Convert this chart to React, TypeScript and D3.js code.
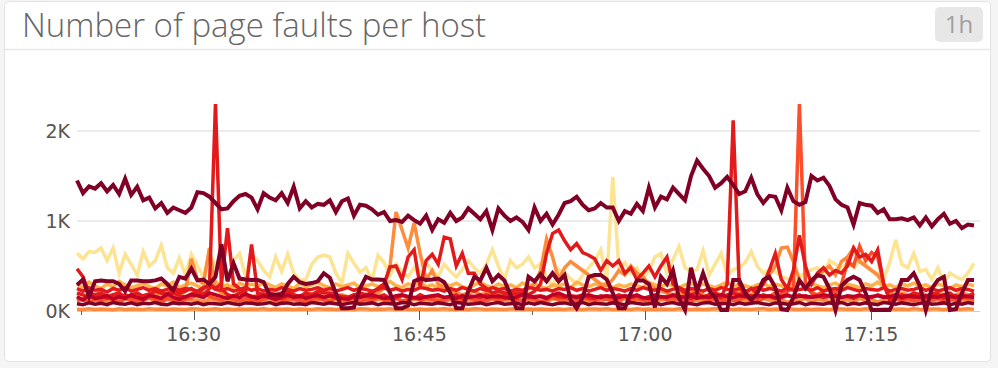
import React from "react";
import * as d3 from "d3";

const TITLE = "Number of page faults per host";
const BADGE = "1h";
const START = new Date(2024, 0, 1, 16, 22, 15);
const END = new Date(2024, 0, 1, 17, 22, 15);
const STEP_SEC = 24;
const yTickValues = [0, 1000, 2000];

const hostA = [1450,1310,1385,1360,1420,1330,1400,1300,1470,1290,
 1380,1230,1260,1140,1200,1090,1150,1120,1090,1150,
 1320,1310,1270,1200,1130,1140,1220,1280,1300,1260,
 1130,1310,1260,1230,1310,1200,1380,1140,1220,1150,
 1190,1180,1230,1100,1220,1250,1060,1180,1170,1130,
 1070,1100,1000,1010,990,1060,1010,970,1060,900,
 1020,980,1090,1000,1040,1140,1080,1020,1110,900,
 1140,1060,1000,1040,990,900,1150,1000,1080,960,
 1070,1200,1220,1270,1180,1120,1140,1200,1150,1150,
 1000,1110,1080,1190,1110,1370,1150,1270,1240,1370,
 1300,1230,1500,1670,1580,1500,1370,1420,1490,1400,
 1300,1330,1480,1300,1200,1280,1270,1120,1370,1220,
 1180,1210,1500,1450,1480,1390,1240,1180,1150,960,
 1200,1180,1170,1090,1130,1020,1020,1030,1010,1040,
 950,1040,940,1020,1080,970,1000,920,960,950];

const hostB = [290,350,160,330,340,330,330,300,220,340,
 340,330,330,340,360,300,230,380,360,470,
 340,350,300,380,740,330,530,360,350,345,
 345,320,180,180,180,300,380,320,300,310,
 330,420,370,200,30,30,40,250,380,350,
 350,345,200,30,30,60,330,360,345,350,
 360,320,200,30,30,220,380,340,480,330,
 400,340,180,30,30,380,330,410,330,420,
 330,400,120,30,150,380,400,400,350,200,
 30,30,200,340,340,300,40,380,300,450,
 140,10,480,220,420,230,150,10,10,345,
 345,200,120,200,345,380,260,20,10,150,
 340,250,340,400,380,250,10,280,345,380,
 345,200,10,10,10,10,150,345,345,420,
 280,10,250,345,380,10,20,200,345,345];

const hostC = [640,580,660,650,700,560,700,420,630,520,
 400,660,500,560,730,480,420,590,400,630,
 500,380,630,500,630,350,560,640,380,630,
 560,450,380,600,440,630,420,340,350,520,
 600,620,600,420,310,640,530,430,480,340,
 620,540,400,520,440,380,480,400,540,450,
 380,520,440,380,460,560,480,420,520,680,
 500,350,560,480,520,600,480,520,380,270,
 460,420,360,300,400,480,560,680,340,1490,
 480,540,420,480,360,450,600,640,420,570,
 715,480,440,460,670,400,520,640,400,460,
 480,540,660,500,420,460,440,380,360,300,
 380,420,460,480,400,560,520,460,540,480,
 560,520,450,420,350,540,790,520,480,640,
 440,460,350,480,320,420,380,350,420,530];

const hostD = [200,180,150,160,190,140,170,150,180,160,
 150,170,190,160,140,180,200,170,150,190,
 200,180,250,2300,250,180,160,200,180,150,
 170,160,180,150,140,170,160,150,180,170,
 160,150,170,140,160,150,180,160,170,150,
 160,180,140,150,170,160,140,180,150,160,
 170,150,160,180,140,170,160,150,180,160,
 150,170,160,140,180,150,160,170,150,180,
 160,150,170,160,180,150,140,170,160,150,
 180,160,150,170,140,160,180,150,160,170,
 150,160,140,170,150,180,160,150,300,2120,
 300,160,170,150,180,160,140,150,170,160,
 180,150,160,170,150,160,180,150,160,140,
 170,160,150,180,160,150,170,140,160,150,
 170,160,150,180,140,160,170,150,160,170];

const hostE = [120,140,100,130,110,150,120,100,140,130,
 110,120,150,130,100,140,120,110,130,150,
 180,200,160,140,120,150,130,110,140,120,
 100,130,150,120,110,140,130,120,100,130,
 140,120,110,150,130,120,140,100,130,120,
 150,130,120,140,110,130,150,120,140,130,
 110,120,140,130,100,150,120,130,110,140,
 120,130,150,110,120,140,130,100,120,150,
 130,140,120,110,150,130,120,140,130,110,
 120,150,130,140,120,110,130,150,120,140,
 130,120,110,150,140,120,130,110,140,120,
 130,150,120,110,140,160,200,180,220,250,
 2300,300,200,180,220,250,200,300,550,500,
 720,560,650,600,300,150,130,120,140,110,
 130,150,120,140,110,130,120,150,140,130];

const hostF = [150,130,160,140,180,150,170,140,160,150,
 180,160,150,170,190,200,180,160,220,580,
 350,300,700,250,200,180,160,200,180,170,
 150,160,180,170,200,180,160,150,170,190,
 180,160,150,170,180,160,150,170,160,180,
 200,250,500,1100,900,700,980,640,350,450,
 300,250,220,200,180,200,220,180,200,190,
 180,200,220,200,180,250,300,450,800,600,
 350,480,550,500,450,400,350,300,280,350,
 450,400,500,420,380,300,250,220,200,180,
 200,180,220,200,180,160,200,180,160,200,
 220,200,180,250,300,400,500,700,710,550,
 350,250,300,400,450,500,400,550,600,700,
 550,500,450,400,300,200,180,200,180,160,
 200,180,160,200,180,160,180,200,180,160];

const hostG = [470,380,200,180,200,160,180,200,150,180,
 200,160,180,220,200,180,250,200,220,250,
 200,250,300,250,300,920,300,250,200,740,
 200,180,200,180,200,220,180,160,200,180,
 220,200,200,180,160,150,180,200,180,200,
 250,300,490,500,350,600,680,270,560,630,
 520,820,800,500,640,420,420,300,250,200,
 220,200,180,200,200,180,220,300,640,860,
 900,780,680,750,650,620,580,450,560,500,
 560,420,480,350,420,500,380,500,600,300,
 250,200,180,200,150,180,200,150,180,200,
 180,200,250,200,300,450,640,350,250,450,
 840,500,300,420,480,400,450,420,500,700,
 600,630,550,680,300,120,150,180,160,200,
 180,150,200,180,160,200,150,180,160,200];

const hostH = [160,120,180,140,150,170,130,160,140,180,
 150,130,170,160,140,190,150,130,160,180,
 170,150,200,180,160,140,170,150,190,160,
 140,170,150,130,160,180,150,170,140,160,
 180,150,170,160,140,130,160,150,170,180,
 160,140,150,170,180,160,150,140,160,170,
 180,150,160,140,170,150,160,180,150,160,
 170,150,140,160,180,170,150,160,140,180,
 200,170,160,150,170,180,160,150,170,160,
 150,170,160,180,150,140,170,160,150,180,
 160,150,170,140,160,150,170,180,160,150,
 170,160,150,180,160,170,150,160,180,150,
 160,170,150,160,180,170,160,150,170,160,
 180,150,160,170,150,160,180,150,170,160,
 150,170,160,150,180,160,150,170,160,150];

const hostI = [250,220,260,230,240,210,250,230,260,220,
 240,260,230,250,220,240,260,230,250,240,
 220,260,280,240,230,250,220,240,260,230,
 250,220,240,230,260,240,220,250,230,240,
 260,230,250,220,240,260,230,250,240,220,
 240,260,230,250,220,240,230,260,250,230,
 240,220,250,230,260,240,220,250,230,260,
 240,250,220,240,230,260,250,230,240,220,
 250,240,260,230,250,220,240,260,230,250,
 240,220,250,230,260,240,230,250,220,240,
 260,230,250,240,220,250,230,260,240,230,
 250,220,240,260,230,250,240,220,260,230,
 240,250,230,260,220,240,250,230,260,240,
 220,250,240,230,260,220,240,250,230,240,
 260,230,250,220,240,260,230,250,240,220];

const hostJ = [110,130,95,120,140,105,125,100,135,115,
 100,125,140,110,95,130,120,105,140,115,
 125,100,135,120,110,140,95,125,115,130,
 105,120,140,100,130,115,125,95,135,110,
 120,140,105,130,100,125,115,135,110,95,
 130,120,105,140,115,100,130,125,95,120,
 140,110,125,100,135,115,105,130,120,140,
 100,125,115,95,130,140,110,120,105,135,
 125,100,140,115,130,95,120,110,135,125,
 105,140,100,130,115,125,95,120,140,110,
 130,105,125,115,100,140,120,95,130,115,
 125,100,135,110,140,120,105,130,95,125,
 115,140,100,130,120,105,135,110,125,95,
 140,115,130,100,125,110,135,120,105,140,
 100,130,115,125,95,120,140,110,130,105];

const hostK = [300,260,320,280,250,300,270,330,290,260,
 280,310,270,250,300,280,320,260,290,310,
 280,250,300,330,270,290,260,310,280,300,
 270,320,290,260,300,280,250,310,270,290,
 320,280,260,300,270,290,310,260,280,300,
 270,290,330,280,260,300,280,320,270,290,
 260,300,280,310,270,250,290,320,280,260,
 300,270,290,260,310,280,300,270,250,290,
 280,300,260,320,290,270,300,280,310,260,
 290,270,300,280,260,320,290,270,300,280,
 260,290,310,270,300,280,260,290,320,270,
 300,280,260,290,310,270,300,280,260,290,
 320,270,300,280,260,290,310,270,300,280,
 260,300,280,320,270,290,260,300,280,310,
 270,290,260,300,280,250,290,270,300,280];

const hostL = [80,70,90,75,85,70,95,80,75,90,
 70,85,80,95,75,70,90,80,85,75,
 90,70,85,80,75,95,80,70,90,85,
 75,80,95,70,85,90,75,80,70,95,
 85,75,90,80,70,85,95,75,80,90,
 70,85,80,75,95,90,70,85,80,75,
 90,80,70,95,85,75,80,90,70,85,
 95,75,80,85,70,90,75,95,80,70,
 85,90,75,80,95,70,85,80,75,90,
 80,70,95,85,75,80,90,70,85,95,
 75,85,80,70,90,95,75,80,85,70,
 90,75,85,95,80,70,90,85,75,80,
 95,70,85,80,75,90,80,95,70,85,
 75,90,80,70,95,85,75,90,80,70,
 85,95,75,80,90,70,85,75,95,80];

const hostM = [20,18,24,16,22,20,15,25,18,22,
 20,16,24,19,21,17,23,20,18,25,
 22,17,20,24,18,21,16,23,19,22,
 20,25,17,21,19,23,16,22,20,18,
 24,19,21,17,23,20,18,25,22,16,
 21,19,24,17,22,20,18,23,16,21,
 19,24,20,17,22,18,25,21,16,23,
 20,18,22,24,17,21,19,23,20,16,
 22,18,25,20,17,23,21,19,24,18,
 20,22,16,24,19,21,17,23,20,18,
 25,21,18,22,16,20,24,19,21,17,
 23,20,18,22,25,16,21,19,24,20,
 17,22,18,23,20,16,24,21,19,22,
 18,25,20,17,23,21,19,22,16,24,
 20,18,23,21,17,22,20,19,24,18];

// drawing order (first drawn = bottom)
const seriesList = [
  { name: "host-c", values: hostC, color: "#fde492", width: 3.5 },
  { name: "host-k", values: hostK, color: "#feb24c", width: 3.5 },
  { name: "host-m", values: hostM, color: "#fd8d3c", width: 3.5 },
  { name: "host-j", values: hostJ, color: "#fd8d3c", width: 3.5 },
  { name: "host-f", values: hostF, color: "#fd8d3c", width: 3.5 },
  { name: "host-e", values: hostE, color: "#fc4e2a", width: 3.5 },
  { name: "host-i", values: hostI, color: "#e31a1c", width: 3.5 },
  { name: "host-g", values: hostG, color: "#e31a1c", width: 3.5 },
  { name: "host-d", values: hostD, color: "#e31a1c", width: 3.5 },
  { name: "host-h", values: hostH, color: "#bd0026", width: 3.5 },
  { name: "host-l", values: hostL, color: "#800026", width: 3.5 },
  { name: "host-b", values: hostB, color: "#800026", width: 4 },
  { name: "host-a", values: hostA, color: "#800026", width: 4 },
];

export default function App() {
  const W = 998, H = 368;
  const left = 77, right = 980, top = 131, bottom = 311;
  const x = d3.scaleTime().domain([START, END]).range([left, right]);
  const y = d3.scaleLinear().domain([0, 2000]).range([bottom, top]);
  const times = hostA.map((_, i) => new Date(START.getTime() + i * STEP_SEC * 1000));
  const line = d3.line<number>().x((_, i) => x(times[i])).y((d) => y(d));
  const majors = x.ticks(d3.timeMinute.every(15) as any);
  const fmt = d3.timeFormat("%H:%M");
  const minors: Date[] = [];
  if (majors.length) {
    let t = d3.timeSecond.offset(majors[0], -450);
    while (t <= END) {
      if (t >= START) minors.push(t);
      t = d3.timeMinute.offset(t, 15);
    }
  }
  const font = "'DejaVu Sans', sans-serif";
  return (
    <div style={{ width: W, height: H }}>
      <style>{"body{margin:0;}"}</style>
      <svg width={W} height={H} style={{ display: "block" }}>
        <rect x={0} y={0} width={W} height={H} fill="#f5f5f5" />
        <rect x={4.5} y={1.5} width={986} height={360} rx={4} fill="#ffffff" stroke="#e2e2e2" />
        <line x1={5} x2={990} y1={49.5} y2={49.5} stroke="#e8e8e8" strokeWidth={1.5} />
        <text x={22} y={37} fontFamily="'Open Sans', sans-serif" fontWeight={300} fontSize={33} fill="#666666">{TITLE}</text>
        <rect x={935} y={7} width={48} height={35} rx={5} fill="#e7e7e7" />
        <text x={959} y={33} textAnchor="middle" fontFamily="'Open Sans', sans-serif" fontSize={24} fill="#a0a0a0">{BADGE}</text>
        {yTickValues.map((v) => (
          <g key={v}>
            {v > 0 && <line x1={left} x2={right} y1={y(v)} y2={y(v)} stroke="#ebebeb" strokeWidth={2} />}
            <text x={70} y={y(v)} dy="0.36em" textAnchor="end" fontFamily={font} fontSize={19} fill="#555">{`${v / 1000}K`}</text>
          </g>
        ))}
        <line x1={left} x2={right} y1={bottom + 0.5} y2={bottom + 0.5} stroke="#d0d0d0" />
        {seriesList.map((s) => (
          <path key={s.name} d={line(s.values) || ""} fill="none" stroke={s.color} strokeWidth={s.width} strokeLinejoin="miter" />
        ))}
        {minors.map((t) => (
          <line key={"m" + t.getTime()} x1={Math.round(x(t)) + 0.5} x2={Math.round(x(t)) + 0.5} y1={bottom} y2={bottom + 4} stroke="#666" />
        ))}
        {majors.map((t) => (
          <g key={"M" + t.getTime()}>
            <line x1={Math.round(x(t)) + 0.5} x2={Math.round(x(t)) + 0.5} y1={bottom} y2={bottom + 9} stroke="#555" />
            <text x={x(t)} y={341} textAnchor="middle" fontFamily={font} fontSize={19} fill="#555">{fmt(t)}</text>
          </g>
        ))}
      </svg>
    </div>
  );
}
